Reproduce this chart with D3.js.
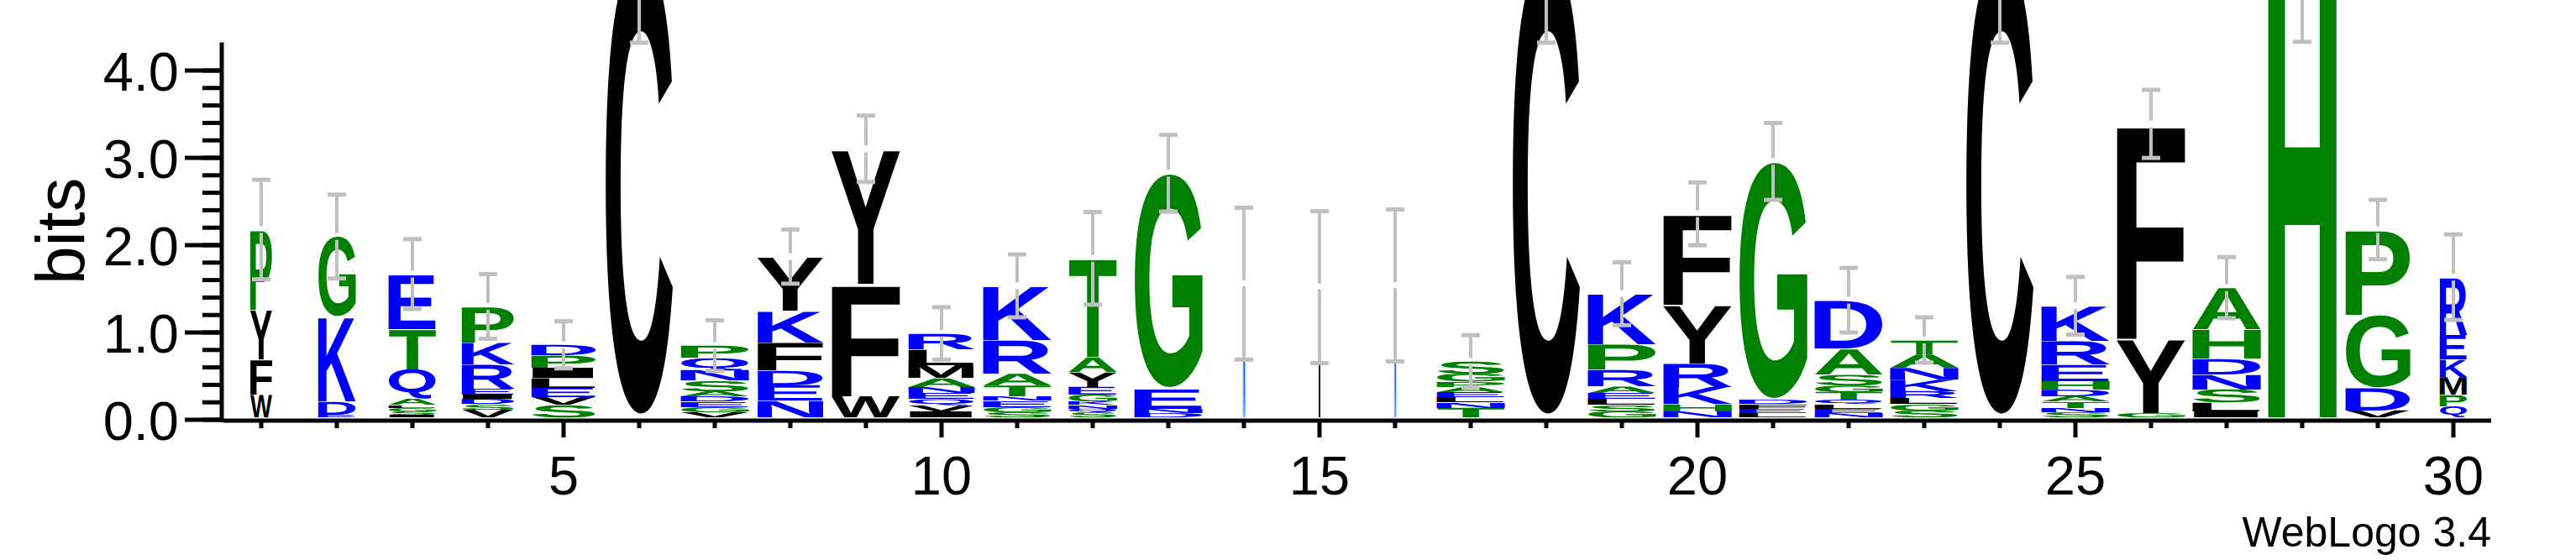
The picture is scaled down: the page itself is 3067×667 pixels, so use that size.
<!DOCTYPE html>
<html>
<head>
<meta charset="utf-8">
<script src="https://cdn.jsdelivr.net/npm/d3@7"></script>
<style>
  html, body { margin: 0; padding: 0; background: #fff; }
  svg { display: block; }
</style>
</head>
<body>
<svg id="logo"></svg>
<script>
// letters of each stack, bottom to top
const columnLetters = [
  'WFYP', 'EDKG', 'ISGLAQTE', 'VSDIERKP', 'SVELIPD', 'C',
  'VGEDASNQP', 'NEDFKY', 'WFY', 'IVQENAMLR', 'SGENTARK', 'SQNKGEYAT',
  'DNEG', 'N', 'I', 'N', 'TNLEAPGS', 'C',
  'GSLEARPK', 'NHKRYF', 'LEFDG', 'NELQTGSAD', 'SGLRKNAT', 'C',
  'SNTADHERK', 'GYF', 'ILSNDHA', 'H', 'VDGP', 'QPMKER'
];

// height of each letter in bits, same order
const columnBits = [
  [0.26, 0.40, 0.57, 0.92],
  [0.03, 0.15, 0.97, 0.92],
  [0.03, 0.04, 0.04, 0.03, 0.07, 0.34, 0.46, 0.63],
  [0.09, 0.06, 0.06, 0.05, 0.07, 0.28, 0.25, 0.41],
  [0.14, 0.09, 0.11, 0.11, 0.12, 0.14, 0.12],
  [5.29],
  [0.06, 0.06, 0.06, 0.06, 0.06, 0.12, 0.12, 0.14, 0.14],
  [0.19, 0.18, 0.17, 0.32, 0.36, 0.62],
  [0.245, 1.28, 1.55],
  [0.07, 0.07, 0.07, 0.07, 0.07, 0.10, 0.15, 0.18, 0.18],
  [0.06, 0.06, 0.07, 0.05, 0.125, 0.135, 0.385, 0.62],
  [0.06, 0.04, 0.04, 0.04, 0.08, 0.09, 0.17, 0.17, 1.13],
  [0.05, 0.05, 0.225, 2.47],
  [1.53],
  [1.49],
  [1.51],
  [0.11, 0.06, 0.06, 0.06, 0.06, 0.06, 0.09, 0.14],
  [5.29],
  [0.07, 0.07, 0.07, 0.07, 0.075, 0.19, 0.29, 0.58],
  [0.07, 0.08, 0.20, 0.27, 0.67, 1.04],
  [0.05, 0.05, 0.05, 0.05, 2.73],
  [0.05, 0.05, 0.05, 0.05, 0.09, 0.077, 0.125, 0.293, 0.556],
  [0.08, 0.07, 0.07, 0.08, 0.135, 0.135, 0.155, 0.16],
  [5.29],
  [0.06, 0.05, 0.07, 0.06, 0.077, 0.10, 0.19, 0.27, 0.40],
  [0.05, 0.85, 2.46],
  [0.07, 0.10, 0.15, 0.17, 0.18, 0.335, 0.48],
  [5.25],
  [0.08, 0.26, 0.835, 0.975],
  [0.125, 0.13, 0.205, 0.20, 0.285, 0.66]
];

// fraction of non-gap symbols (stack width)
const columnWidthFrac = [
  0.32, 0.55, 0.70, 0.77, 0.95, 1.0, 1.0, 0.96, 1.0, 0.97,
  1.0, 0.71, 1.0, 0.03, 0.025, 0.025, 1.0, 1.0, 1.0, 1.0,
  1.0, 1.0, 1.0, 1.0, 1.0, 1.0, 1.0, 1.0, 0.95, 0.40
];

// error bar half-heights in bits
const errorBits = [
  0.57, 0.48, 0.40, 0.37, 0.27, 1.0, 0.29, 0.31, 0.38, 0.30,
  0.36, 0.53, 0.44, 0.87, 0.87, 0.87, 0.30, 1.0, 0.36, 0.36,
  0.44, 0.37, 0.26, 1.0, 0.33, 0.39, 0.35, 0.95, 0.34, 0.49
];

const yTickValues = [0, 1, 2, 3, 4];
const xTickLabels = [5, 10, 15, 20, 25, 30];

// hydrophobicity colour scheme
const colourGroups = [
  { letters: 'RKDENQ', colour: '#0000ff' },
  { letters: 'SGHTAP', colour: '#008000' },
  { letters: 'YVMCLFIW', colour: '#000000' }
];

const W = 3067;
const H = 667;
const font = "'Liberation Sans', Arial, Helvetica, sans-serif";
const colWidth = 82;
const stackLift = 3;
const maxBits = Math.log2(20);

const svg = d3.select('#logo')
  .attr('width', W)
  .attr('height', H)
  .style('background', '#fff');

const x = d3.scaleLinear().domain([0.5, columnLetters.length + 0.5]).range([266, 2966]);
const y = d3.scaleLinear().domain([0, maxBits]).range([500, 500 - maxBits * 104]);

const colourOf = ch => {
  const g = colourGroups.find(c => c.letters.includes(ch));
  return g ? g.colour : '#000';
};

// tight ink box of each glyph (per unit font size), measured on a canvas
const ctx = document.createElement('canvas').getContext('2d');
const probeSize = 400;
ctx.font = `bold ${probeSize}px ${font}`;
const inkCache = {};
const ink = ch => {
  if (!inkCache[ch]) {
    const m = ctx.measureText(ch);
    inkCache[ch] = {
      l: -m.actualBoundingBoxLeft / probeSize,
      r: m.actualBoundingBoxRight / probeSize,
      a: m.actualBoundingBoxAscent / probeSize,
      d: m.actualBoundingBoxDescent / probeSize
    };
  }
  return inkCache[ch];
};

// flatten stacks into glyph records
const glyphs = [];
const stackTops = [];
columnLetters.forEach((letters, i) => {
  const pos = i + 1;
  const w = colWidth * columnWidthFrac[i];
  let cum = 0;
  letters.split('').forEach((ch, j) => {
    const b = columnBits[i][j];
    glyphs.push({
      ch,
      x0: x(pos) - w / 2,
      x1: x(pos) + w / 2,
      yBot: y(cum) - stackLift,
      yTop: y(cum + b) - stackLift
    });
    cum += b;
  });
  stackTops.push({ pos, total: cum, err: errorBits[i] });
});

// font size chosen so the glyph fills the box height; width by horizontal scale
glyphs.forEach(d => {
  const m = ink(d.ch);
  d.size = (d.yBot - d.yTop) / (m.a + m.d);
  d.sx = (d.x1 - d.x0) / ((m.r - m.l) * d.size);
  d.tx = d.x0 - m.l * d.size * d.sx;
  d.ty = d.yTop + m.a * d.size;
});

const gStacks = svg.append('g')
  .attr('class', 'stacks')
  .attr('text-rendering', 'geometricPrecision');

gStacks.selectAll('text')
  .data(glyphs)
  .join('text')
  .attr('font-family', font)
  .attr('font-weight', 'bold')
  .attr('font-size', d => d.size)
  .attr('fill', d => colourOf(d.ch))
  .attr('transform', d => `translate(${d.tx},${d.ty}) scale(${d.sx},1)`)
  .text(d => d.ch);

// error bars, with a small gap at the stack top
const gErr = svg.append('g')
  .attr('class', 'errorbars')
  .attr('stroke', '#c0c0c0')
  .attr('fill', 'none');

const errGap = 4;
const capHalf = 11;
stackTops.forEach(d => {
  const cx = x(d.pos);
  const top = y(d.total) - stackLift;
  const half = y(0) - y(d.err);
  const g = gErr.append('g');
  g.append('line')
    .attr('x1', cx).attr('x2', cx)
    .attr('y1', top - half).attr('y2', top - errGap)
    .attr('stroke-width', 4);
  g.append('line')
    .attr('x1', cx).attr('x2', cx)
    .attr('y1', top + errGap).attr('y2', top + half)
    .attr('stroke-width', 4);
  [top - half, top + half].forEach(cy => {
    g.append('line')
      .attr('x1', cx - capHalf).attr('x2', cx + capHalf)
      .attr('y1', cy).attr('y2', cy)
      .attr('stroke-width', 5);
  });
});

// y axis
const gY = svg.append('g').attr('class', 'y-axis');
gY.append('line')
  .attr('x1', 264).attr('x2', 264)
  .attr('y1', y(maxBits)).attr('y2', y(0) + 3)
  .attr('stroke', '#000').attr('stroke-width', 5);

const minorTicks = d3.range(0, 21).map(k => k * 0.2);
gY.selectAll('line.minor')
  .data(minorTicks)
  .join('line')
  .attr('class', 'minor')
  .attr('x1', 241).attr('x2', 264)
  .attr('y1', d => y(d)).attr('y2', d => y(d))
  .attr('stroke', '#000').attr('stroke-width', 5);

gY.selectAll('line.major')
  .data(yTickValues)
  .join('line')
  .attr('class', 'major')
  .attr('x1', 220).attr('x2', 264)
  .attr('y1', d => y(d)).attr('y2', d => y(d))
  .attr('stroke', '#000').attr('stroke-width', 5);

gY.selectAll('text')
  .data(yTickValues)
  .join('text')
  .attr('x', 213)
  .attr('y', d => y(d) + 23.5)
  .attr('text-anchor', 'end')
  .attr('font-family', font)
  .attr('font-size', 65)
  .text(d => d.toFixed(1));

svg.append('text')
  .attr('transform', `translate(100,${(y(0) + y(maxBits)) / 2}) rotate(-90)`)
  .attr('text-anchor', 'middle')
  .attr('font-family', font)
  .attr('font-size', 82)
  .text('bits');

// x axis
const gX = svg.append('g').attr('class', 'x-axis');
gX.append('line')
  .attr('x1', x(0.5)).attr('x2', x(columnLetters.length + 0.5))
  .attr('y1', 501).attr('y2', 501)
  .attr('stroke', '#000').attr('stroke-width', 5);

gX.selectAll('line.tick')
  .data(stackTops.map(d => d.pos))
  .join('line')
  .attr('class', 'tick')
  .attr('x1', d => x(d)).attr('x2', d => x(d))
  .attr('y1', 501)
  .attr('y2', d => (xTickLabels.includes(d) ? 521 : 510))
  .attr('stroke', '#000').attr('stroke-width', 5);

gX.selectAll('text')
  .data(xTickLabels)
  .join('text')
  .attr('x', d => x(d))
  .attr('y', 589)
  .attr('text-anchor', 'middle')
  .attr('font-family', font)
  .attr('font-size', 65)
  .text(d => d);

svg.append('text')
  .attr('x', 2966)
  .attr('y', 651)
  .attr('text-anchor', 'end')
  .attr('font-family', font)
  .attr('font-size', 50)
  .text('WebLogo 3.4');
</script>
</body>
</html>
